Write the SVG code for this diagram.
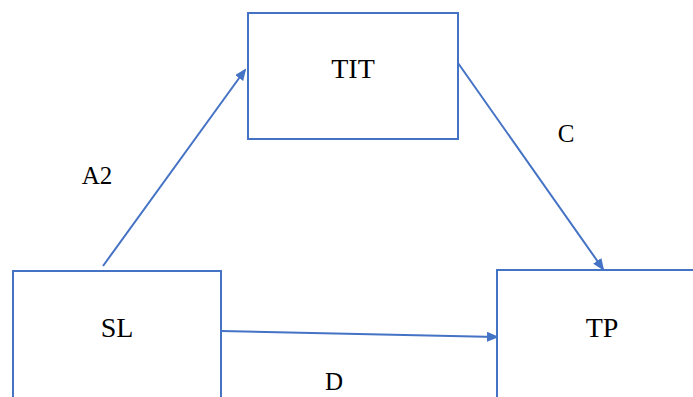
<svg xmlns="http://www.w3.org/2000/svg" width="693" height="397" viewBox="0 0 693 397">
<style>
.box{fill:#fff;stroke:#4472c4;stroke-width:2}
.lbl{font-family:"Liberation Serif",serif;fill:#000;text-anchor:middle}
.edge{stroke:#4472c4;stroke-width:2;fill:none;marker-end:url(#ah)}
</style>
<defs>
<marker id="ah" markerWidth="12" markerHeight="10" refX="10" refY="5" orient="auto" markerUnits="userSpaceOnUse">
<path d="M0,0 L12,5 L0,10 z" fill="#4472c4"/>
</marker>
</defs>
<rect width="693" height="397" fill="#fff"/>
<g id="edges">
<line class="edge" x1="103" y1="266" x2="245" y2="70"/>
<line class="edge" x1="458" y1="63" x2="603" y2="269"/>
<line class="edge" x1="221" y1="331" x2="497" y2="337"/>
</g>
<g id="TIT">
<rect class="box" x="248" y="13" width="210" height="126"/>
<text class="lbl" x="353" y="78" font-size="28">TIT</text>
</g>
<g id="SL">
<rect class="box" x="13" y="271" width="208" height="140"/>
<text class="lbl" x="117" y="337" font-size="28">SL</text>
</g>
<g id="TP">
<rect class="box" x="497" y="270" width="210" height="140"/>
<text class="lbl" x="602" y="337" font-size="28">TP</text>
</g>
<g id="labels">
<text class="lbl" x="97" y="184" font-size="25">A2</text>
<text class="lbl" x="566" y="142" font-size="25">C</text>
<text class="lbl" x="334" y="390" font-size="25">D</text>
</g>
</svg>
